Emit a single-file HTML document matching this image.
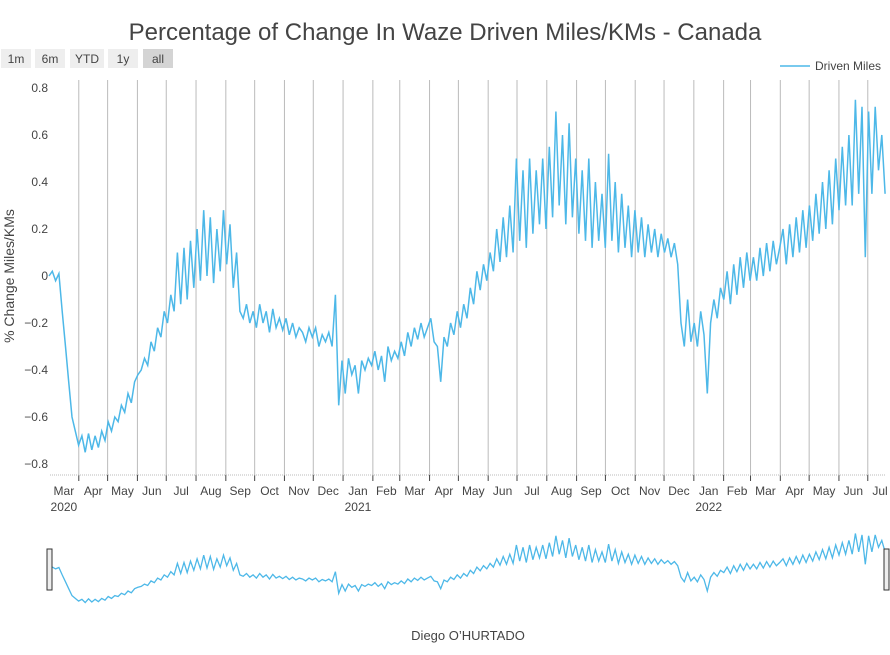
<!DOCTYPE html>
<html><head><meta charset="utf-8"><style>
body{margin:0;background:#fff;font-family:"Liberation Sans",Arial,sans-serif}
svg text{font-family:"Liberation Sans",Arial,sans-serif}
</style></head><body>
<svg id="c" width="890" height="650" xmlns="http://www.w3.org/2000/svg">
<text x="445" y="40" text-anchor="middle" font-size="24" fill="#444">Percentage of Change In Waze Driven Miles/KMs - Canada</text>
<g font-size="12" fill="#444">
<g><rect x="1" y="49" width="30" height="19" fill="#eee"/><text x="16" y="63" text-anchor="middle">1m</text></g>
<g><rect x="35" y="49" width="30" height="19" fill="#eee"/><text x="50" y="63" text-anchor="middle">6m</text></g>
<g><rect x="70" y="49" width="34" height="19" fill="#eee"/><text x="87" y="63" text-anchor="middle">YTD</text></g>
<g><rect x="108" y="49" width="30" height="19" fill="#eee"/><text x="123" y="63" text-anchor="middle">1y</text></g>
<g><rect x="143" y="49" width="30" height="19" fill="#d4d4d4"/><text x="158" y="63" text-anchor="middle">all</text></g>
</g>
<g><line x1="780" y1="66" x2="810" y2="66" stroke="#4db8e8" stroke-width="1.5"/><text x="815" y="70" font-size="12" fill="#444">Driven Miles</text></g>
<text transform="translate(14,276) rotate(-90)" text-anchor="middle" font-size="14" fill="#444">% Change Miles/KMs</text>
<g id="grid"></g><g id="yt"></g><g id="xt"></g>
<line x1="50" y1="475" x2="886" y2="475" stroke="#bbb" stroke-dasharray="1,1"/>
<path id="line" fill="none" stroke="#4db8e8" stroke-width="1.5"/>
<g>
<path id="sline" fill="none" stroke="#4db8e8" stroke-width="1.3"/>
<rect x="47" y="549" width="5" height="41" fill="#eee" stroke="#333"/>
<rect x="884" y="549" width="5" height="41" fill="#eee" stroke="#333"/>
</g>
<text x="468" y="640" text-anchor="middle" font-size="13" fill="#444">Diego O’HURTADO</text>
</svg>
<script>
const yTicks=[0.8,0.6,0.4,0.2,0,-0.2,-0.4,-0.6,-0.8];
const monthLabels=["Mar","Apr","May","Jun","Jul","Aug","Sep","Oct","Nov","Dec","Jan","Feb","Mar","Apr","May","Jun","Jul","Aug","Sep","Oct","Nov","Dec","Jan","Feb","Mar","Apr","May","Jun","Jul"];
const monthDays=[31,30,31,30,31,31,30,31,30,31,31,28,31,30,31,30,31,31,30,31,30,31,31,28,31,30,31,30,31];
const yearLabels=["2020","2021","2022"];
const totalDays=870;
const values=[0,0.02,-0.02,0.01,-0.15,-0.3,-0.45,-0.6,-0.66,
-0.72,-0.68,-0.75,-0.67,-0.74,-0.68,-0.73,-0.66,-0.7,
-0.62,-0.66,-0.6,-0.62,-0.55,-0.58,-0.5,-0.54,-0.45,
-0.42,-0.4,-0.35,-0.38,-0.28,-0.32,-0.22,-0.26,-0.15,
-0.2,-0.08,-0.15,0.1,-0.12,0.12,-0.1,0.15,-0.05,
0.2,-0.02,0.28,0,0.25,-0.03,0.2,0.02,0.28,
0.05,0.22,-0.05,0.1,-0.15,-0.18,-0.12,-0.2,-0.15,
-0.22,-0.12,-0.2,-0.15,-0.24,-0.14,-0.22,-0.18,-0.23,
-0.18,-0.25,-0.2,-0.26,-0.22,-0.24,-0.28,-0.22,-0.26,
-0.22,-0.3,-0.25,-0.28,-0.24,-0.3,-0.08,-0.55,-0.36,
-0.5,-0.35,-0.42,-0.38,-0.5,-0.36,-0.4,-0.35,-0.38,
-0.32,-0.4,-0.34,-0.45,-0.3,-0.36,-0.32,-0.35,
-0.28,-0.34,-0.24,-0.3,-0.22,-0.27,-0.2,-0.26,-0.22,
-0.18,-0.28,-0.3,-0.45,-0.26,-0.3,-0.2,-0.25,-0.15,
-0.22,-0.12,-0.18,-0.05,-0.12,0.02,-0.06,0.05,-0.02,
0.1,0.02,0.2,0.06,0.25,0.08,0.3,0.1,0.5,
0.15,0.45,0.12,0.5,0.18,0.45,0.22,0.5,0.2,
0.55,0.25,0.7,0.3,0.6,0.22,0.65,0.25,0.5,
0.18,0.45,0.15,0.5,0.12,0.4,0.15,0.35,0.12,
0.52,0.15,0.4,0.1,0.35,0.12,0.3,0.08,0.28,
0.1,0.25,0.08,0.22,0.1,0.2,0.08,0.18,0.1,
0.16,0.08,0.14,0.05,-0.2,-0.3,-0.1,-0.28,-0.2,
-0.3,-0.15,-0.25,-0.5,-0.2,-0.1,-0.18,-0.05,-0.1,
0.02,-0.12,0.05,-0.08,0.08,-0.05,0.1,-0.02,
0.08,-0.02,0.12,0,0.14,0.02,0.15,0.05,0.12,
0.2,0.05,0.22,0.08,0.25,0.1,0.28,0.12,0.3,
0.15,0.35,0.18,0.4,0.2,0.45,0.22,0.5,0.28,
0.55,0.3,0.6,0.3,0.75,0.35,0.72,0.08,0.7,
0.35,0.72,0.45,0.6,0.35];
const NS="http://www.w3.org/2000/svg";
const x=d=>49+d*0.961;
const y=v=>276-v*235;
const ys=v=>568-v*46;
function mk(t,a,p){const e=document.createElementNS(NS,t);for(const k in a)e.setAttribute(k,a[k]);p.appendChild(e);return e;}
const grid=document.getElementById('grid'),yt=document.getElementById('yt'),xt=document.getElementById('xt');
yTicks.forEach(v=>{const t=mk('text',{x:48,y:y(v)+4,'text-anchor':'end','font-size':12,fill:'#444'},yt);t.textContent=(v<0?'\u22120':'')+(v<0?String(-v).slice(1):String(v));

});
let d=0,yi=0;
monthLabels.forEach((m,i)=>{const x0=x(d),x1=x(d+monthDays[i]);
if(i>0){const g=mk('line',{x1:x0,x2:x0,y1:80,y2:475,stroke:'#bbb'},grid);


mk('line',{x1:x0,x2:x0,y1:475,y2:481,stroke:'#444'},xt);}
const cx=Math.min((x0+x1)/2,880);
const t=mk('text',{x:cx,y:495,'text-anchor':'middle','font-size':12,fill:'#444'},xt);t.textContent=m;


if(i===0||m==="Jan"){const yl=mk('text',{x:cx,y:511,'text-anchor':'middle','font-size':12,fill:'#444'},xt);yl.textContent=yearLabels[yi++];

}
d+=monthDays[i];});
const step=totalDays/(values.length-1);
let p='',ps='';
values.forEach((v,i)=>{const dd=i*step;p+=(i?'L':'M')+x(dd).toFixed(1)+','+y(v).toFixed(1);ps+=(i?'L':'M')+x(dd).toFixed(1)+','+ys(v).toFixed(1);});
document.getElementById('line').setAttribute('d',p);
document.getElementById('sline').setAttribute('d',ps);
</script>
</body></html>
